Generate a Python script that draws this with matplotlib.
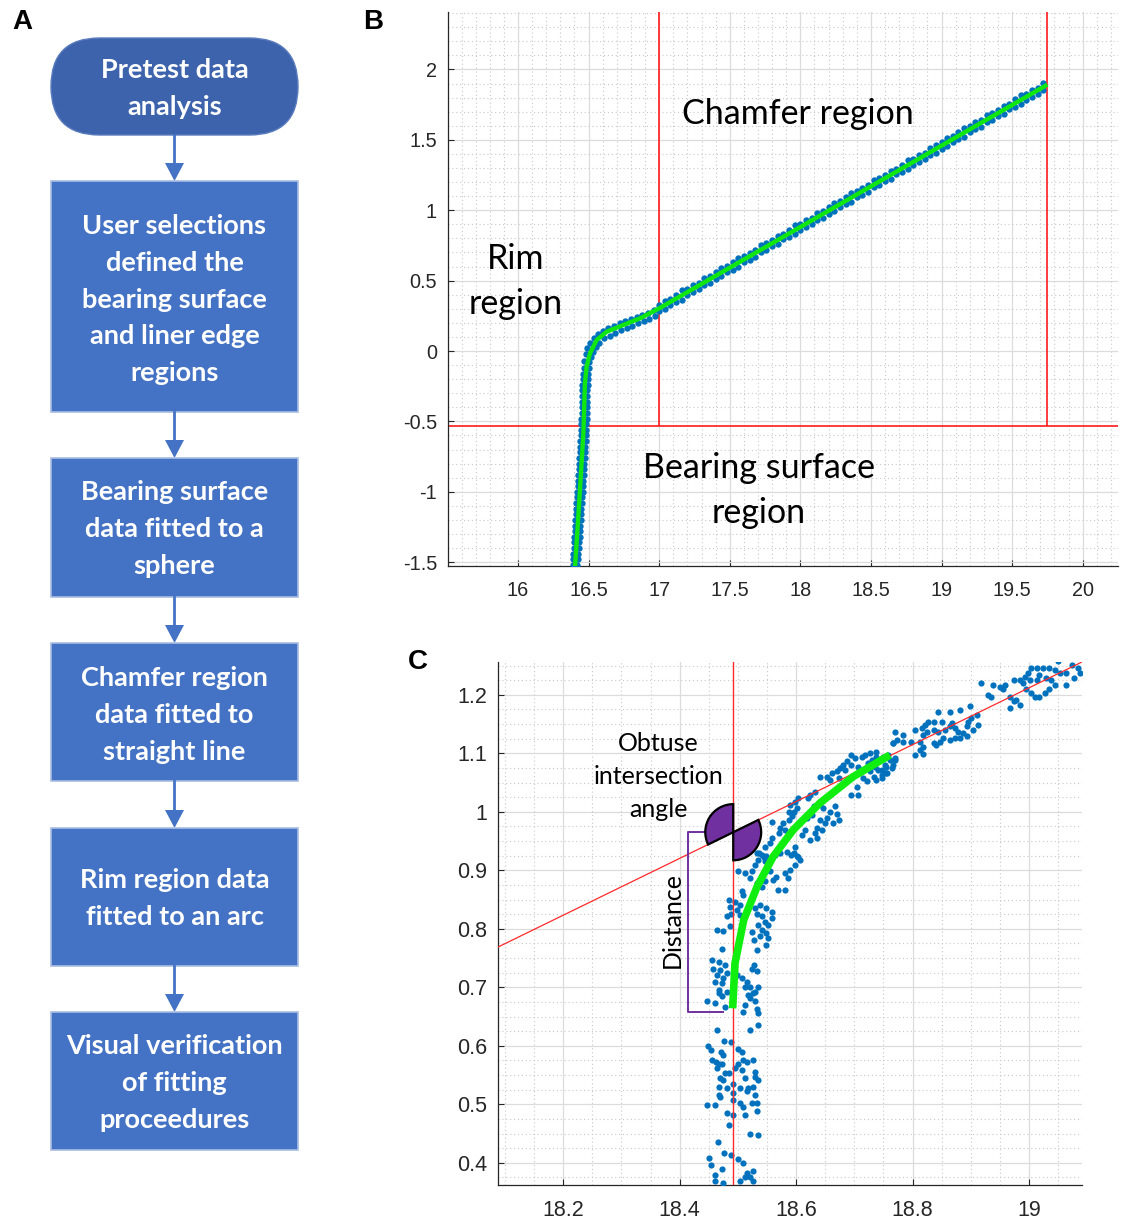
import matplotlib
matplotlib.use("Agg")
import matplotlib.pyplot as plt
from matplotlib.patches import FancyBboxPatch, Rectangle, Wedge, Polygon
from matplotlib.ticker import MultipleLocator, FuncFormatter

plt.rcParams['font.family'] = 'Liberation Sans'
plt.rcParams['axes.unicode_minus'] = False

# flowchart steps (panel A)
steps = [
    ["Pretest data", "analysis"],
    ["User selections", "defined the", "bearing surface", "and liner edge", "regions"],
    ["Bearing surface", "data fitted to a", "sphere"],
    ["Chamfer region", "data fitted to", "straight line"],
    ["Rim region data", "fitted to an arc"],
    ["Visual verification", "of fitting", "proceedures"],
]

# panel B: profile measurement, fitted profile, region limits
b_edge_pts = [
    (16.388, -1.52), (16.421, -1.52), (16.391, -1.48), (16.426, -1.48), (16.392, -1.44), (16.428, -1.44),
    (16.395, -1.40), (16.431, -1.40), (16.398, -1.36), (16.433, -1.36), (16.399, -1.32), (16.437, -1.32),
    (16.402, -1.28), (16.438, -1.28), (16.405, -1.24), (16.441, -1.24), (16.407, -1.20), (16.445, -1.20),
    (16.410, -1.16), (16.446, -1.16), (16.413, -1.12), (16.449, -1.12), (16.414, -1.08), (16.453, -1.08),
    (16.418, -1.04), (16.454, -1.04), (16.420, -1.00), (16.458, -1.00), (16.422, -0.96), (16.459, -0.96),
    (16.425, -0.92), (16.462, -0.92), (16.427, -0.88), (16.466, -0.88), (16.429, -0.84), (16.467, -0.84),
    (16.433, -0.80), (16.470, -0.80), (16.434, -0.76), (16.473, -0.76), (16.437, -0.72), (16.474, -0.72),
    (16.440, -0.68), (16.477, -0.68), (16.442, -0.64), (16.481, -0.64), (16.444, -0.60), (16.482, -0.60),
    (16.446, -0.56), (16.485, -0.56), (16.448, -0.52), (16.484, -0.52), (16.447, -0.48), (16.487, -0.48),
    (16.450, -0.44), (16.486, -0.44), (16.451, -0.40), (16.489, -0.40), (16.452, -0.36), (16.488, -0.36),
    (16.453, -0.32), (16.491, -0.32), (16.455, -0.28), (16.492, -0.28), (16.456, -0.24), (16.494, -0.24),
    (16.459, -0.20), (16.497, -0.20), (16.462, -0.16), (16.499, -0.16), (16.465, -0.12), (16.503, -0.12),
    (16.468, -0.07), (16.478, -0.02), (16.490, 0.020), (16.510, 0.055), (16.535, 0.090), (16.565, 0.120),
    (16.600, 0.145), (16.640, 0.165), (16.680, 0.180), (16.720, 0.197), (16.760, 0.210), (16.800, 0.225),
    (16.840, 0.240), (16.880, 0.255), (16.920, 0.270), (16.960, 0.288),
    (16.505, -0.08), (16.515, -0.04), (16.530, -0.005), (16.550, 0.030), (16.575, 0.060), (16.610, 0.090),
    (16.650, 0.110), (16.690, 0.130), (16.730, 0.150), (16.770, 0.165), (16.810, 0.180), (16.850, 0.198),
    (16.890, 0.212), (16.930, 0.228), (16.970, 0.248),
]
b_chamfer_x = [17.00, 17.04, 17.08, 17.12, 17.16, 17.20, 17.24, 17.28, 17.32, 17.36,
               17.40, 17.44, 17.48, 17.52, 17.56, 17.60, 17.64, 17.68, 17.72, 17.76,
               17.80, 17.84, 17.88, 17.92, 17.96, 18.00, 18.04, 18.08, 18.12, 18.16,
               18.20, 18.24, 18.28, 18.32, 18.36, 18.40, 18.44, 18.48, 18.52, 18.56,
               18.60, 18.64, 18.68, 18.72, 18.76, 18.80, 18.84, 18.88, 18.92, 18.96,
               19.00, 19.04, 19.08, 19.12, 19.16, 19.20, 19.24, 19.28, 19.32, 19.36,
               19.40, 19.44, 19.48, 19.52, 19.56, 19.60, 19.64, 19.68, 19.72]
b_chamfer_upper = [0.327, 0.356, 0.370, 0.399, 0.430, 0.441, 0.468, 0.484, 0.519, 0.536,
                   0.558, 0.587, 0.601, 0.631, 0.662, 0.672, 0.699, 0.715, 0.750, 0.767,
                   0.789, 0.819, 0.833, 0.862, 0.893, 0.903, 0.930, 0.946, 0.981, 0.998,
                   1.021, 1.050, 1.064, 1.093, 1.124, 1.134, 1.161, 1.177, 1.213, 1.230,
                   1.252, 1.281, 1.295, 1.324, 1.355, 1.365, 1.393, 1.409, 1.444, 1.461,
                   1.483, 1.512, 1.526, 1.555, 1.586, 1.597, 1.624, 1.640, 1.675, 1.692,
                   1.714, 1.743, 1.757, 1.787, 1.818, 1.828, 1.855, 1.871, 1.906]
b_chamfer_lower = [0.281, 0.299, 0.330, 0.347, 0.365, 0.398, 0.418, 0.437, 0.470, 0.485,
                   0.512, 0.530, 0.561, 0.579, 0.597, 0.629, 0.649, 0.668, 0.701, 0.716,
                   0.743, 0.762, 0.793, 0.810, 0.828, 0.860, 0.880, 0.899, 0.932, 0.947,
                   0.975, 0.993, 1.024, 1.041, 1.059, 1.091, 1.111, 1.130, 1.164, 1.179,
                   1.206, 1.224, 1.255, 1.272, 1.290, 1.322, 1.343, 1.362, 1.395, 1.410,
                   1.437, 1.455, 1.486, 1.503, 1.521, 1.554, 1.574, 1.593, 1.626, 1.641,
                   1.668, 1.686, 1.717, 1.735, 1.753, 1.785, 1.805, 1.824, 1.857]
b_fit_x = [16.404, 16.427, 16.463, 16.474, 16.486, 16.510, 16.557, 16.628, 16.746, 16.864, 17.000, 19.750]
b_fit_y = [-1.532, -1.177, -0.585, -0.229, -0.111, -0.016, 0.078, 0.137, 0.185, 0.232, 0.303, 1.892]
b_chamfer_limits = [17.0, 19.75]
b_bearing_limit = -0.53

# panel C: zoom on the rim/chamfer junction
c_pts_lower = [
    (18.467, 0.690), (18.472, 0.685), (18.447, 0.677), (18.460, 0.673), (18.478, 0.666), (18.518, 0.687),
    (18.526, 0.691), (18.521, 0.682), (18.529, 0.676), (18.512, 0.670), (18.532, 0.662), (18.509, 0.657),
    (18.534, 0.656), (18.464, 0.627), (18.477, 0.609), (18.488, 0.606), (18.521, 0.627), (18.535, 0.636),
    (18.449, 0.599), (18.453, 0.593), (18.471, 0.590), (18.474, 0.585), (18.501, 0.594), (18.507, 0.590),
    (18.455, 0.576), (18.463, 0.573), (18.467, 0.568), (18.472, 0.568), (18.464, 0.562), (18.509, 0.576),
    (18.515, 0.573), (18.501, 0.569), (18.526, 0.576), (18.495, 0.562), (18.507, 0.559), (18.529, 0.556),
    (18.478, 0.553), (18.484, 0.553), (18.469, 0.545), (18.475, 0.542), (18.512, 0.545), (18.529, 0.546),
    (18.535, 0.541), (18.491, 0.534), (18.467, 0.529), (18.481, 0.527), (18.504, 0.528), (18.518, 0.528),
    (18.526, 0.530), (18.467, 0.516), (18.492, 0.519), (18.515, 0.522), (18.529, 0.516), (18.469, 0.513),
    (18.492, 0.508), (18.504, 0.502), (18.447, 0.499), (18.460, 0.498), (18.509, 0.495), (18.524, 0.502),
    (18.532, 0.502), (18.481, 0.485), (18.492, 0.482), (18.512, 0.482), (18.532, 0.488), (18.484, 0.465),
    (18.521, 0.449), (18.535, 0.448), (18.465, 0.436), (18.477, 0.416), (18.489, 0.414), (18.451, 0.408),
    (18.501, 0.406), (18.454, 0.396), (18.472, 0.390), (18.509, 0.399), (18.461, 0.379), (18.515, 0.383),
    (18.526, 0.386), (18.512, 0.376), (18.521, 0.376), (18.461, 0.368), (18.475, 0.366), (18.504, 0.368),
    (18.526, 0.369),
]
c_pts_rim = [
    (18.532, 0.929), (18.541, 0.926), (18.549, 0.924), (18.558, 0.921), (18.535, 0.918), (18.547, 0.915),
    (18.529, 0.909), (18.564, 0.926), (18.572, 0.929), (18.584, 0.932), (18.592, 0.926), (18.601, 0.924),
    (18.606, 0.918), (18.598, 0.909), (18.589, 0.901), (18.581, 0.895), (18.586, 0.886), (18.566, 0.889),
    (18.555, 0.898), (18.561, 0.884), (18.569, 0.866), (18.581, 0.866), (18.501, 0.898), (18.512, 0.895),
    (18.524, 0.898), (18.521, 0.886), (18.532, 0.878), (18.541, 0.872), (18.547, 0.881), (18.507, 0.864),
    (18.509, 0.858), (18.484, 0.849), (18.495, 0.846), (18.504, 0.841), (18.487, 0.838), (18.498, 0.832),
    (18.489, 0.826), (18.481, 0.821), (18.504, 0.824), (18.529, 0.835), (18.538, 0.841), (18.549, 0.835),
    (18.558, 0.829), (18.532, 0.826), (18.541, 0.821), (18.547, 0.812), (18.552, 0.807), (18.558, 0.818),
    (18.535, 0.807), (18.541, 0.798), (18.549, 0.792), (18.464, 0.798), (18.475, 0.797), (18.487, 0.804),
    (18.524, 0.795), (18.527, 0.781), (18.538, 0.787), (18.552, 0.784), (18.549, 0.772), (18.532, 0.764),
    (18.473, 0.765), (18.456, 0.747), (18.467, 0.744), (18.478, 0.738), (18.458, 0.732), (18.469, 0.729),
    (18.481, 0.724), (18.464, 0.721), (18.475, 0.715), (18.461, 0.709), (18.472, 0.707), (18.467, 0.695),
    (18.481, 0.692), (18.498, 0.721), (18.507, 0.715), (18.515, 0.709), (18.524, 0.732), (18.527, 0.738),
    (18.532, 0.727), (18.512, 0.701), (18.521, 0.701), (18.535, 0.701), (18.529, 0.692),
]
c_pts_bend = [
    (18.767, 1.117), (18.758, 1.097), (18.770, 1.092), (18.767, 1.080), (18.755, 1.077), (18.747, 1.072),
    (18.738, 1.103), (18.727, 1.100), (18.718, 1.097), (18.713, 1.094), (18.695, 1.097), (18.701, 1.092),
    (18.687, 1.086), (18.681, 1.080), (18.675, 1.074), (18.670, 1.069), (18.661, 1.066), (18.684, 1.072),
    (18.695, 1.080), (18.707, 1.077), (18.724, 1.083), (18.727, 1.069), (18.733, 1.060), (18.738, 1.054),
    (18.747, 1.057), (18.755, 1.066), (18.715, 1.057), (18.721, 1.052), (18.704, 1.043), (18.707, 1.029),
    (18.695, 1.029), (18.687, 1.054), (18.673, 1.057), (18.658, 1.054), (18.653, 1.060), (18.641, 1.060),
    (18.633, 1.034), (18.624, 1.029), (18.621, 1.023), (18.604, 1.023), (18.598, 1.017), (18.590, 1.012),
    (18.587, 1.000), (18.596, 1.000), (18.601, 1.006), (18.593, 0.992), (18.587, 0.986), (18.578, 0.980),
    (18.573, 0.972), (18.581, 0.969), (18.558, 0.983), (18.570, 0.963), (18.558, 0.955), (18.556, 0.946),
    (18.547, 0.940), (18.536, 0.929), (18.544, 0.923), (18.596, 0.929), (18.604, 0.923), (18.598, 0.940),
    (18.630, 1.009), (18.641, 1.014), (18.647, 1.006), (18.658, 1.000), (18.667, 1.009), (18.670, 0.997),
    (18.673, 0.986), (18.664, 0.980), (18.650, 0.980), (18.653, 0.989), (18.641, 0.986), (18.636, 0.972),
    (18.644, 0.969), (18.633, 0.963), (18.624, 0.952), (18.636, 0.955), (18.618, 0.989), (18.627, 0.994),
    (18.616, 0.969), (18.610, 0.960),
]
c_pts_chamfer = [
    (19.050, 1.257), (19.073, 1.251), (19.084, 1.246), (19.087, 1.237), (19.078, 1.229), (19.064, 1.237),
    (19.053, 1.237), (19.044, 1.243), (19.035, 1.246), (19.024, 1.246), (19.013, 1.246), (19.004, 1.246),
    (18.998, 1.237), (18.993, 1.231), (19.001, 1.226), (19.013, 1.226), (19.018, 1.234), (19.030, 1.229),
    (19.038, 1.226), (19.044, 1.217), (19.035, 1.209), (19.027, 1.203), (19.018, 1.197), (19.010, 1.197),
    (19.004, 1.203), (19.064, 1.217), (18.984, 1.226), (18.975, 1.226), (18.958, 1.217), (18.950, 1.214),
    (18.955, 1.209), (18.938, 1.217), (18.918, 1.220), (18.930, 1.200), (18.935, 1.197), (18.967, 1.197),
    (18.978, 1.191), (18.975, 1.189), (18.967, 1.177), (18.984, 1.183), (18.995, 1.209), (18.990, 1.220),
    (18.898, 1.180), (18.881, 1.174), (18.864, 1.171), (18.844, 1.171), (18.850, 1.154), (18.836, 1.154),
    (18.827, 1.154), (18.821, 1.149), (18.816, 1.143), (18.804, 1.140), (18.798, 1.120), (18.813, 1.120),
    (18.818, 1.131), (18.824, 1.137), (18.836, 1.140), (18.844, 1.137), (18.856, 1.140), (18.864, 1.146),
    (18.867, 1.151), (18.873, 1.143), (18.878, 1.137), (18.887, 1.134), (18.893, 1.146), (18.896, 1.154),
    (18.901, 1.160), (18.910, 1.166), (18.913, 1.149), (18.904, 1.140), (18.893, 1.129), (18.881, 1.126),
    (18.873, 1.126), (18.864, 1.123), (18.853, 1.126), (18.847, 1.120), (18.841, 1.114), (18.836, 1.117),
    (18.818, 1.111), (18.813, 1.106), (18.804, 1.097), (18.818, 1.099), (18.784, 1.131), (18.773, 1.123),
    (18.767, 1.117), (18.770, 1.137), (18.784, 1.120), (18.750, 1.094), (18.761, 1.089), (18.770, 1.089),
    (18.753, 1.080), (18.764, 1.074), (18.756, 1.066), (18.747, 1.063), (18.741, 1.072), (18.736, 1.077),
    (18.738, 1.094), (18.730, 1.089), (18.733, 1.083),
]
c_arc_x = [18.491, 18.495, 18.510, 18.533, 18.561, 18.595, 18.641, 18.698, 18.761]
c_arc_y = [0.664, 0.741, 0.815, 0.872, 0.924, 0.969, 1.015, 1.060, 1.097]
c_chamfer_x = [18.0, 19.2]
c_chamfer_y = [0.726, 1.309]
c_rim_x = 18.492
c_angle_deg = 26.0
c_dist_top = 0.966
c_dist_bottom = 0.658

fig = plt.figure(figsize=(11.22, 12.20), dpi=100)

# pixel-space layer for the flowchart and panel letters
ax0 = fig.add_axes([0, 0, 1, 1])
ax0.set_xlim(0, 1122)
ax0.set_ylim(1220, 0)
ax0.axis('off')

box_top = [38, 181, 458, 643, 828, 1012]
box_bot = [135, 412, 597, 781, 966, 1150]
text_top = [68, 224, 490, 676, 878, 1044]
left, right = 51, 298
cx = 174.5
for i, lines in enumerate(steps):
    t, b = box_top[i], box_bot[i]
    if i == 0:
        patch = FancyBboxPatch((left, t), right - left, b - t,
                               boxstyle=f"round,pad=0,rounding_size={(b - t) / 2}",
                               fc='#3d63ad', ec='#5a7cbd', lw=1)
    else:
        patch = Rectangle((left, t), right - left, b - t, fc='#4472c4', ec='#a9bde3', lw=1.2)
    ax0.add_patch(patch)
    for j, s in enumerate(lines):
        ax0.text(cx, text_top[i] + j * 36.8, s, ha='center', va='center_baseline',
                 color='white', fontsize=19.5, family='Lato', fontweight='bold')
    if i < len(steps) - 1:
        nt = box_top[i + 1]
        ax0.plot([cx, cx], [b, nt - 16], color='#4472c4', lw=2)
        ax0.add_patch(Polygon([[cx - 9.5, nt - 18], [cx + 9.5, nt - 18], [cx, nt]],
                              closed=True, fc='#4472c4', ec='none'))

for lab, (px, py) in {'A': (22, 22), 'B': (373, 22), 'C': (418, 662)}.items():
    ax0.text(px, py, lab, ha='center', va='center', fontsize=20, fontweight='bold', color='black')


def matlab_axes(ax, labelsize):
    for s in ['top', 'right']:
        ax.spines[s].set_visible(False)
    for s in ['left', 'bottom']:
        ax.spines[s].set_color('#262626')
        ax.spines[s].set_linewidth(0.9)
    ax.grid(which='major', color='#dcdcdc', lw=0.9, ls='-')
    ax.grid(which='minor', color='#c8c8c8', lw=0.8, ls=(0, (1, 2.5)))
    ax.set_axisbelow(True)
    ax.tick_params(which='major', direction='in', length=4, width=0.8, color='#262626',
                   labelcolor='#262626', labelsize=labelsize, pad=8)
    ax.tick_params(axis='x', which='major', pad=11)
    ax.tick_params(which='minor', length=0)
    fmt = FuncFormatter(lambda v, _: f"{round(v, 3):g}")
    ax.xaxis.set_major_formatter(fmt)
    ax.yaxis.set_major_formatter(fmt)


# ---- B ----
axB = fig.add_axes([448 / 1122, 1 - 566 / 1220, 670 / 1122, 554 / 1220])
matlab_axes(axB, 14.3)
axB.set_xlim(15.504, 20.25)
axB.set_ylim(-1.527, 2.408)
axB.xaxis.set_major_locator(MultipleLocator(0.5))
axB.yaxis.set_major_locator(MultipleLocator(0.5))
axB.xaxis.set_minor_locator(MultipleLocator(0.1))
axB.yaxis.set_minor_locator(MultipleLocator(0.1))

axB.vlines(b_chamfer_limits, b_bearing_limit, 2.408, color='#ff1a1a', lw=1.2, zorder=2)
axB.axhline(b_bearing_limit, color='#ff1a1a', lw=1.2, zorder=2)
axB.scatter([p[0] for p in b_edge_pts], [p[1] for p in b_edge_pts], s=21, c='#0072bd', lw=0, zorder=3)
axB.scatter(b_chamfer_x, b_chamfer_upper, s=21, c='#0072bd', lw=0, zorder=3)
axB.scatter(b_chamfer_x, b_chamfer_lower, s=21, c='#0072bd', lw=0, zorder=3)
axB.plot(b_fit_x, b_fit_y, color='#10e610', lw=3.1, solid_capstyle='butt', zorder=4)

tkw = dict(family='Lato', fontsize=24.5, color='black', ha='center', va='center_baseline')
axB.text(17.983, 1.705, "Chamfer region", **tkw)
axB.text(15.986, 0.675, "Rim", **tkw)
axB.text(15.986, 0.355, "region", **tkw)
axB.text(17.707, -0.81, "Bearing surface", **tkw)
axB.text(17.707, -1.13, "region", **tkw)

# ---- C ----
axC = fig.add_axes([498 / 1122, 1 - 1185 / 1220, 584 / 1122, 523 / 1220])
matlab_axes(axC, 15.5)
axC.set_xlim(18.088, 19.091)
axC.set_ylim(0.362, 1.256)
axC.xaxis.set_major_locator(MultipleLocator(0.2))
axC.yaxis.set_major_locator(MultipleLocator(0.1))
axC.xaxis.set_minor_locator(MultipleLocator(0.05))
axC.yaxis.set_minor_locator(MultipleLocator(0.025))

for pts in [c_pts_lower, c_pts_rim, c_pts_bend, c_pts_chamfer]:
    axC.scatter([p[0] for p in pts], [p[1] for p in pts], s=20, c='#0072bd', lw=0, zorder=3)
axC.axvline(c_rim_x, color='#ff2a2a', lw=1.0, zorder=4)
axC.plot(c_chamfer_x, c_chamfer_y, color='#ff2a2a', lw=0.9, zorder=4)
axC.plot(c_arc_x, c_arc_y, color='#10ee10', lw=5.5, solid_capstyle='butt', zorder=5)

# intersection angle between the rim and chamfer fits
yc = c_chamfer_y[0] + (c_rim_x - c_chamfer_x[0]) * (c_chamfer_y[1] - c_chamfer_y[0]) / (c_chamfer_x[1] - c_chamfer_x[0])
for t1, t2 in [(90, 180 + c_angle_deg), (270, 360 + c_angle_deg)]:
    axC.add_patch(Wedge((c_rim_x, yc), 0.048, t1, t2, fc='#7030a0', ec='black', lw=1.6, zorder=6))

# distance bracket
axC.plot([18.445, 18.415, 18.415, 18.475], [c_dist_top, c_dist_top, c_dist_bottom, c_dist_bottom],
         color='#7030a0', lw=1.4, zorder=5)
ckw = dict(family='Lato', fontsize=18, color='black', ha='center', va='center_baseline')
axC.text(18.363, 1.120, "Obtuse", **ckw)
axC.text(18.363, 1.063, "intersection", **ckw)
axC.text(18.363, 1.007, "angle", **ckw)
axC.text(18.387, 0.815, "Distance", rotation=90, family='Lato', fontsize=18, color='black',
         ha='center', va='center')

fig.savefig("out.png", dpi=100)
